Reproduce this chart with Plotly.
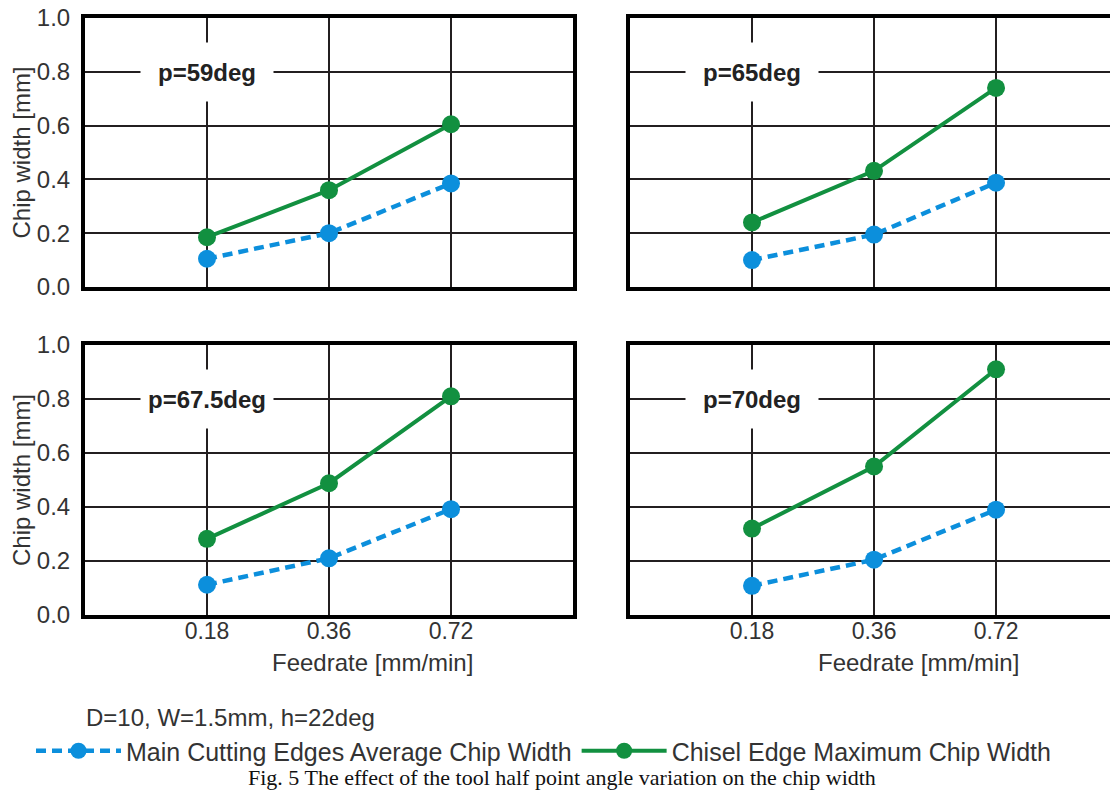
import plotly.graph_objects as go

feed_labels = ["0.18", "0.36", "0.72"]
feed_pos = [1, 2, 3]
angles = ["p=59deg", "p=65deg", "p=67.5deg", "p=70deg"]
main_avg = [
    [0.105, 0.200, 0.385],
    [0.100, 0.195, 0.388],
    [0.112, 0.210, 0.392],
    [0.108, 0.205, 0.390],
]
chisel_max = [
    [0.185, 0.360, 0.605],
    [0.240, 0.432, 0.740],
    [0.282, 0.488, 0.810],
    [0.320, 0.550, 0.910],
]
y_ticks = [0.0, 0.2, 0.4, 0.6, 0.8, 1.0]
legend_names = ["Main Cutting Edges Average Chip Width", "Chisel Edge Maximum Chip Width"]

BLUE = "#0C8FDC"
GREEN = "#129040"
INK = "#231F20"
TXT = "#333333"
FONT = "Liberation Sans, Arial, sans-serif"

W, H = 1110, 794
ML, MR, MT, MB = 85, 0, 18, 179
PW = W - ML - MR
PH = H - MT - MB

def px_x(x):
    return (x - ML) / PW

def px_y(y):
    return (H - MB - y) / PH

fig = go.Figure()

xdoms = [[0, px_x(573)], [px_x(630), 1.0]]
ydoms = [[px_y(287), 1.0], [0.0, px_y(345)]]
xranges = [[0, 4.0], [0, 3.934]]

layout = dict()
for i in range(4):
    r, c = divmod(i, 2)
    n = "" if i == 0 else str(i + 1)
    xa, ya = "x" + n, "y" + n
    fig.add_trace(go.Scatter(
        x=feed_pos, y=main_avg[i], xaxis=xa, yaxis=ya,
        mode="lines+markers", name=legend_names[0], legendgroup="a",
        showlegend=(i == 0),
        line=dict(color=BLUE, width=4.5, dash="10px,6px"),
        marker=dict(color=BLUE, size=18),
    ))
    fig.add_trace(go.Scatter(
        x=feed_pos, y=chisel_max[i], xaxis=xa, yaxis=ya,
        mode="lines+markers", name=legend_names[1], legendgroup="b",
        showlegend=(i == 0),
        line=dict(color=GREEN, width=4),
        marker=dict(color=GREEN, size=18),
    ))
    layout["xaxis" + n] = dict(
        domain=xdoms[c], range=xranges[c], anchor=ya,
        tickvals=feed_pos, ticktext=feed_labels,
        showticklabels=(r == 1), ticks="",
        showgrid=True, gridcolor=INK, gridwidth=2,
        showline=True, linecolor="black", linewidth=4, mirror=True,
        zeroline=False, fixedrange=True,
        tickfont=dict(size=23, color=TXT, family=FONT),
        ticklabelstandoff=-8,
    )
    layout["yaxis" + n] = dict(
        domain=ydoms[r], range=[0, 1.0], anchor=xa,
        tickvals=y_ticks, tickformat=".1f",
        showticklabels=(c == 0), ticks="",
        showgrid=True, gridcolor=INK, gridwidth=2,
        showline=True, linecolor="black", linewidth=4,
        mirror=(c == 0),
        zeroline=False, fixedrange=True,
        tickfont=dict(size=24, color=TXT, family=FONT),
        ticklabelstandoff=6,
    )

annotations = []
for i in range(4):
    n = "" if i == 0 else str(i + 1)
    annotations.append(dict(
        x=1, y=0.8, xref="x" + n, yref="y" + n, text="<b>" + angles[i] + "</b>",
        showarrow=False, bgcolor="white", width=132, height=58, borderpad=0,
        font=dict(size=24, color="#222222", family=FONT),
    ))

for yc in [(18 + 287) / 2, (345 + 615) / 2]:
    annotations.append(dict(
        x=px_x(21), y=px_y(yc), xref="paper", yref="paper", text="Chip width [mm]",
        textangle=-90, showarrow=False, xanchor="center", yanchor="middle",
        font=dict(size=24, color=TXT, family=FONT),
    ))
for xc in [372, 918]:
    annotations.append(dict(
        x=px_x(xc), y=px_y(663), xref="paper", yref="paper", text="Feedrate [mm/min]",
        showarrow=False, xanchor="center", yanchor="middle",
        font=dict(size=24, color=TXT, family=FONT),
    ))
annotations.append(dict(
    x=px_x(84), y=px_y(717), xref="paper", yref="paper", text="D=10, W=1.5mm, h=22deg",
    showarrow=False, xanchor="left", yanchor="middle",
    font=dict(size=24, color=TXT, family=FONT),
))
annotations.append(dict(
    x=px_x(562), y=px_y(777), xref="paper", yref="paper",
    text="Fig. 5 The effect of the tool half point angle variation on the chip width",
    showarrow=False, xanchor="center", yanchor="middle",
    font=dict(size=22, color="#111111", family="Liberation Serif, Times New Roman, serif"),
))

fig.update_layout(
    **layout,
    width=W, height=H,
    margin=dict(l=ML, r=MR, t=MT, b=MB, autoexpand=False),
    paper_bgcolor="white", plot_bgcolor="white",
    annotations=annotations,
    showlegend=True,
    legend=dict(
        orientation="h", x=px_x(31), y=px_y(751), xanchor="left", yanchor="middle",
        itemwidth=85, font=dict(size=25, color=TXT, family=FONT),
        bgcolor="rgba(0,0,0,0)", tracegroupgap=0,
    ),
)

fig.write_html("out.html", config={"displayModeBar": False},
               post_script="document.body.style.margin='0px';")
